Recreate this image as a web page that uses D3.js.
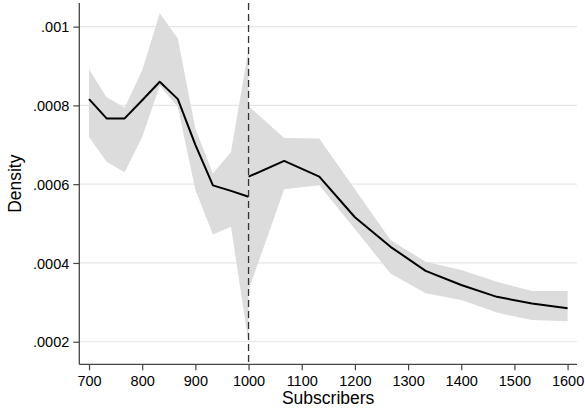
<!DOCTYPE html>
<html>
<head>
<meta charset="utf-8">
<script src="https://cdn.jsdelivr.net/npm/d3@7"></script>
<style>
  body { margin: 0; background: #fff; }
  svg { display: block; font-family: "Liberation Sans", Arial, sans-serif; }
</style>
</head>
<body>
<div id="chart"></div>
<script>
// data: binned density left and right of the 1000 cutoff
var leftX    = [700, 733, 767, 800, 833, 867, 900, 933, 967, 1000];
var leftMid  = [0.000816, 0.000767, 0.000767, 0.000813, 0.00086, 0.000816, 0.0007, 0.000597, 0.000583, 0.000568];
var leftHi   = [0.000892, 0.000821, 0.000794, 0.000889, 0.001034, 0.00097, 0.000741, 0.000627, 0.000682, 0.000944];
var leftLo   = [0.00072, 0.000657, 0.00063, 0.00072, 0.00085, 0.000796, 0.000585, 0.000472, 0.000492, 0.000196];

var rightX   = [1000, 1067, 1133, 1200, 1267, 1333, 1400, 1467, 1533, 1600];
var rightMid = [0.000619, 0.000659, 0.000619, 0.000516, 0.000441, 0.00038, 0.000344, 0.000314, 0.000297, 0.000285];
var rightHi  = [0.000798, 0.000717, 0.000716, 0.000587, 0.000458, 0.000403, 0.000382, 0.000352, 0.000329, 0.000329];
var rightLo  = [0.000331, 0.000587, 0.000597, 0.000486, 0.000373, 0.000323, 0.000306, 0.000274, 0.000255, 0.000252];

var xTicks = [700, 800, 900, 1000, 1100, 1200, 1300, 1400, 1500, 1600];
var yTicks = [0.0002, 0.0004, 0.0006, 0.0008, 0.001];
var yTickLabels = [".0002", ".0004", ".0006", ".0008", ".001"];
var cutoff = 1000;

// dimensions
var W = 585, H = 411;
var plot = {left: 79.3, right: 577, top: 3, bottom: 364.3};

var svg = d3.select("#chart").append("svg")
  .attr("width", W)
  .attr("height", H);

var x = d3.scaleLinear().domain([681.7, 1617.7]).range([plot.left, plot.right]);
var y = d3.scaleLinear().domain([0.0001427, 0.00106]).range([plot.bottom, plot.top]);

// gridlines
svg.append("g")
  .selectAll("line")
  .data(yTicks)
  .join("line")
  .attr("x1", plot.left).attr("x2", plot.right)
  .attr("y1", d => y(d)).attr("y2", d => y(d))
  .attr("stroke", "#e6e6e6")
  .attr("stroke-width", 1.2);

// bands + lines for each side
function side(xs, mid, lo, hi) {
  var rows = xs.map((v, i) => ({x: v, m: mid[i], lo: lo[i], hi: hi[i]}));
  svg.append("path")
    .datum(rows)
    .attr("fill", "#dcdcdc")
    .attr("d", d3.area().x(d => x(d.x)).y0(d => y(d.lo)).y1(d => y(d.hi)));
  svg.append("path")
    .datum(rows)
    .attr("fill", "none")
    .attr("stroke", "#000")
    .attr("stroke-width", 2)
    .attr("stroke-linejoin", "round")
    .attr("d", d3.line().x(d => x(d.x)).y(d => y(d.m)));
}
side(leftX, leftMid, leftLo, leftHi);
side(rightX, rightMid, rightLo, rightHi);

// cutoff line
svg.append("line")
  .attr("x1", x(cutoff)).attr("x2", x(cutoff))
  .attr("y1", plot.top).attr("y2", plot.bottom)
  .attr("stroke", "#333")
  .attr("stroke-width", 1.3)
  .attr("stroke-dasharray", "7,4");

// axes
var xAxis = d3.axisBottom(x).tickValues(xTicks).tickSize(6).tickPadding(5).tickFormat(d3.format("d"));
var gx = svg.append("g")
  .attr("transform", `translate(0, ${plot.bottom})`)
  .call(xAxis);
gx.select(".domain").attr("d", `M${plot.left},0H${plot.right}`);

var yAxis = d3.axisLeft(y).tickValues(yTicks).tickSize(6).tickPadding(4)
  .tickFormat((d, i) => yTickLabels[i]);
var gy = svg.append("g")
  .attr("transform", `translate(${plot.left}, 0)`)
  .call(yAxis);
gy.select(".domain").attr("d", `M0,${plot.top}V${plot.bottom}`);

[gx, gy].forEach(function(g) {
  g.selectAll(".domain").attr("stroke", "#444").attr("stroke-width", 1.3);
  g.selectAll(".tick line").attr("stroke", "#444").attr("stroke-width", 1.2);
  g.selectAll(".tick text")
    .attr("fill", "#000")
    .style("font-size", "14.5px")
    .style("font-family", "Liberation Sans, Arial, sans-serif");
});
gy.selectAll(".tick text").attr("dy", "0.36em");

// axis titles
svg.append("text")
  .attr("x", (plot.left + plot.right) / 2)
  .attr("y", 403.5)
  .attr("text-anchor", "middle")
  .style("font-size", "17.5px")
  .text("Subscribers");

svg.append("text")
  .attr("transform", "translate(20.7, 183.7) rotate(-90)")
  .attr("text-anchor", "middle")
  .style("font-size", "17.5px")
  .text("Density");
</script>
</body>
</html>
